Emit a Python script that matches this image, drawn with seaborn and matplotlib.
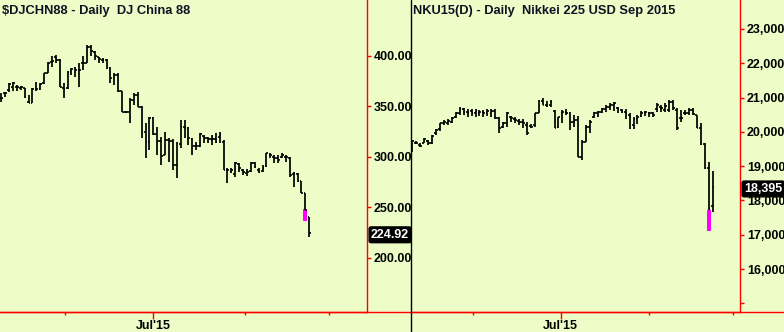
import numpy as np
import matplotlib
matplotlib.use("Agg")
import matplotlib.pyplot as plt
from matplotlib.lines import Line2D
from matplotlib.ticker import FixedLocator
import seaborn as sns

# ---------------- data ----------------
china_title = "$DJCHN88 - Daily  DJ China 88"
china_high = [363.0, 364.6, 372.9, 374.5, 371.2, 370.2, 368.6, 361.3, 368.0, 373.9,
              372.9, 383.5, 393.7, 400.0, 400.6, 396.7, 373.6, 385.4, 387.7, 388.7,
              392.7, 400.0, 410.9, 410.9, 405.2, 399.3, 397.6, 396.7, 388.7, 382.8,
              382.8, 365.3, 345.5, 358.0, 363.7, 364.6, 350.5, 333.3, 339.9, 339.9,
              330.0, 320.1, 325.0, 318.4, 317.5, 315.2, 336.6, 336.6, 330.0, 318.4,
              315.2, 323.4, 321.7, 320.1, 321.7, 323.4, 324.4, 316.8, 288.7, 288.7,
              295.4, 294.4, 287.8, 287.8, 295.4, 295.4, 288.7, 292.0, 304.3, 303.6,
              301.9, 301.9, 303.6, 301.9, 300.3, 285.5, 284.5, 276.5, 264.7, 240.9]
china_low = [354.7, 359.7, 364.6, 365.6, 365.6, 366.3, 358.0, 353.1, 353.1, 365.6,
             366.3, 372.2, 382.8, 389.4, 392.7, 368.9, 358.0, 367.0, 381.1, 379.5,
             368.9, 386.1, 393.4, 400.0, 396.0, 392.7, 392.7, 386.8, 373.6, 371.2,
             364.6, 344.9, 343.9, 334.0, 351.5, 349.8, 318.4, 298.7, 306.9, 321.7,
             302.0, 292.0, 302.0, 295.4, 287.1, 278.9, 308.5, 318.4, 311.9, 302.0,
             306.9, 310.2, 313.5, 313.5, 311.9, 313.5, 314.2, 287.1, 274.6, 283.8,
             280.5, 285.5, 282.1, 281.2, 285.5, 288.7, 283.8, 285.5, 290.4, 298.7,
             293.7, 293.7, 298.7, 295.4, 280.5, 270.6, 275.6, 264.0, 247.5, 221.1]
china_open = [358.0, 363.0, 366.3, 369.6, 368.9, 368.0, 368.0, 354.7, 353.8, 367.0,
              367.0, 372.9, 383.5, 394.4, 399.3, 396.0, 368.0, 368.0, 384.4, 387.7,
              386.1, 392.7, 393.4, 408.5, 404.2, 398.6, 396.0, 396.0, 387.7, 377.9,
              381.1, 365.3, 344.9, 344.9, 356.4, 361.3, 349.8, 325.0, 315.0, 338.9,
              322.7, 316.0, 302.0, 316.8, 316.0, 292.0, 313.0, 330.0, 328.4, 318.0,
              310.9, 311.0, 320.5, 318.4, 317.5, 318.0, 320.0, 315.0, 287.5, 285.0,
              283.0, 293.0, 287.0, 284.0, 286.0, 294.0, 287.0, 286.0, 291.0, 302.0,
              300.0, 299.0, 300.0, 300.0, 299.0, 283.0, 283.0, 276.0, 264.7, 240.2]
china_close = [358.7, 363.0, 372.2, 372.9, 368.9, 368.9, 359.7, 353.1, 367.0, 367.0,
               372.2, 382.8, 393.4, 395.3, 396.0, 368.9, 367.0, 384.4, 386.8, 386.1,
               386.1, 392.7, 408.5, 405.2, 400.0, 396.7, 396.0, 387.7, 377.9, 381.1,
               365.3, 344.9, 344.9, 356.4, 361.3, 349.8, 324.4, 315.2, 338.9, 322.7,
               316.1, 301.0, 316.8, 316.1, 292.0, 313.5, 330.0, 328.4, 318.4, 310.9,
               310.9, 322.7, 318.4, 317.5, 317.5, 315.2, 322.0, 287.5, 287.0, 287.0,
               293.7, 289.0, 285.5, 285.5, 294.4, 290.4, 285.5, 288.7, 303.6, 302.0,
               298.7, 297.0, 302.0, 300.3, 282.1, 283.8, 276.5, 264.7, 247.5, 224.92]
china_marker_bar = 78
china_marker_range = [236.9, 248.5]
china_last = 224.92
china_yticks = [200, 250, 300, 350, 400]
china_month_starts = [16.3, 38.9, 62.5, 84.0]

nikkei_title = "NKU15(D) - Daily  Nikkei 225 USD Sep 2015"
nikkei_high = [19763, 19734, 19666, 19812, 19763, 19909, 20074, 20269, 20347, 20366,
               20444, 20590, 20716, 20687, 20658, 20658, 20658, 20638, 20638, 20668,
               20658, 20658, 20424, 20298, 20590, 20463, 20424, 20366, 20366, 20298,
               20230, 20560, 20930, 20978, 20910, 20930, 20638, 20444, 20638, 20658,
               20590, 20493, 20463, 19763, 20201, 20347, 20590, 20619, 20687, 20784,
               20833, 20881, 20736, 20658, 20658, 20541, 20444, 20493, 20619, 20619,
               20590, 20590, 20833, 20784, 20833, 20930, 20930, 20687, 20638, 20638,
               20687, 20687, 20493, 20250, 19686, 19122, 18860]
nikkei_low = [19423, 19647, 19569, 19666, 19618, 19647, 19909, 20036, 20201, 20201,
              20250, 20395, 20493, 20493, 20444, 20463, 20444, 20463, 20444, 20463,
              20424, 20366, 19977, 20104, 20152, 20298, 20250, 20201, 20104, 19920,
              20104, 20152, 20541, 20784, 20736, 20736, 20104, 20104, 20250, 20493,
              20055, 20152, 19258, 19180, 19715, 19958, 20395, 20444, 20541, 20590,
              20638, 20619, 20560, 20541, 20366, 20074, 20074, 20230, 20444, 20463,
              20444, 20424, 20590, 20590, 20590, 20590, 20638, 20055, 20298, 20493,
              20493, 20493, 20104, 19618, 18908, 17722, 17674]
nikkei_open = [19452, 19686, 19618, 19686, 19744, 19686, 19958, 20074, 20250, 20269,
               20298, 20424, 20541, 20658, 20590, 20619, 20560, 20541, 20590, 20541,
               20560, 20619, 20395, 20152, 20250, 20444, 20366, 20327, 20298, 20200,
               20180, 20201, 20560, 20910, 20784, 20784, 20619, 20152, 20560, 20590,
               20541, 20298, 20347, 19277, 19715, 20152, 20424, 20541, 20590, 20658,
               20736, 20784, 20687, 20638, 20590, 20493, 20201, 20366, 20463, 20560,
               20560, 20541, 20658, 20736, 20638, 20640, 20880, 20638, 20400, 20540,
               20541, 20638, 20493, 20104, 19640, 18937, 17839]
nikkei_close = [19734, 19686, 19589, 19783, 19666, 19880, 20055, 20250, 20298, 20327,
                20395, 20560, 20658, 20590, 20541, 20560, 20619, 20590, 20541, 20619,
                20619, 20395, 20104, 20250, 20541, 20395, 20347, 20298, 20250, 19960,
                20152, 20541, 20910, 20784, 20784, 20881, 20104, 20424, 20590, 20541,
                20298, 20347, 19277, 19715, 20152, 20298, 20541, 20590, 20658, 20736,
                20784, 20833, 20658, 20590, 20560, 20424, 20366, 20444, 20560, 20590,
                20541, 20493, 20785, 20687, 20760, 20880, 20687, 20104, 20395, 20541,
                20638, 20522, 20104, 19640, 18937, 17742, 18395]
nikkei_marker_bar = 75
nikkei_marker_range = [17120, 17730]
nikkei_last = 18395
nikkei_yticks = [15000, 16000, 17000, 18000, 19000, 20000, 21000, 22000, 23000]
nikkei_month_starts = [15.4, 37.6, 59.9, 81.2]
month_label = "Jul'15"

# ---------------- style ----------------
BG = "#EDFDC8"
RED = "#FF0000"
W, H = 784, 332

sns.set_theme(style="white")
plt.rcParams["font.family"] = ["Liberation Sans", "DejaVu Sans"]
plt.rcParams["font.weight"] = "bold"

fig = plt.figure(figsize=(W / 100, H / 100), dpi=100)
fig.patch.set_facecolor(BG)

bottom_px = 312
axL = fig.add_axes([0, (H - bottom_px) / H, 367 / W, bottom_px / H])
axR = fig.add_axes([411 / W, (H - bottom_px) / H, (740 - 411) / W, bottom_px / H])


def draw_panel(ax, o, h, l, c, marker_bar, marker_range, last, yticks, fmt,
               ylim, xlim, months, hide_first_label=False):
    ax.set_facecolor(BG)
    x = np.arange(len(o))
    ax.vlines(x, l, h, color="black", lw=1.25)
    ax.hlines(o, x - 0.45, x, color="black", lw=1.2)
    ax.hlines(c, x, x + 0.45, color="black", lw=1.2)
    ax.bar([marker_bar], [marker_range[1] - marker_range[0]], bottom=marker_range[0],
           width=1.0, color="#FF00FF", linewidth=0)
    ax.set_ylim(*ylim)
    ax.set_xlim(*xlim)
    for s in ["top", "left"]:
        ax.spines[s].set_visible(False)
    ax.spines["right"].set_color(RED)
    ax.spines["right"].set_linewidth(1.0)
    ax.spines["bottom"].set_color(RED)
    ax.spines["bottom"].set_linewidth(1.0)
    ax.yaxis.tick_right()
    ax.set_yticks(yticks)
    labels = [fmt(v) for v in yticks]
    if hide_first_label:
        labels[0] = ""
    ax.set_yticklabels(labels)
    ax.tick_params(axis="y", which="both", direction="out", length=3, width=1,
                   color=RED, labelcolor="black", labelsize=9, pad=2, right=True, left=False)
    ax.set_xticks([months[1]])
    ax.set_xticklabels([month_label])
    ax.xaxis.set_minor_locator(FixedLocator([months[0], months[2], months[3]]))
    ax.tick_params(axis="x", which="major", direction="out", length=5, width=1,
                   color=RED, labelcolor="black", labelsize=9, pad=1, bottom=True)
    ax.tick_params(axis="x", which="minor", direction="out", length=2, width=1,
                   color=RED, bottom=True)
    for t in ax.get_xticklabels() + ax.get_yticklabels():
        t.set_fontweight("bold")
    ax.grid(False)
    ax.annotate(fmt(last), xy=(1, last),
                xycoords=ax.get_yaxis_transform(), xytext=(4, -2),
                textcoords="offset pixels", ha="left", va="center",
                color="white", fontsize=9, fontweight="bold",
                bbox=dict(boxstyle="round,pad=0.15", fc="black", ec="black"),
                annotation_clip=False)


draw_panel(axL, china_open, china_high, china_low, china_close,
           china_marker_bar, china_marker_range, china_last, china_yticks,
           lambda v: f"{v:.2f}", (146.5, 455.4), (-0.33, 93.8), china_month_starts)
draw_panel(axR, nikkei_open, nikkei_high, nikkei_low, nikkei_close,
           nikkei_marker_bar, nikkei_marker_range, nikkei_last, nikkei_yticks,
           lambda v: f"{v:,.0f}", (14749, 23845), (-0.33, 82.96), nikkei_month_starts,
           hide_first_label=True)

yb = (H - bottom_px) / H
fig.add_artist(Line2D([0, 1], [yb, yb], transform=fig.transFigure, color=RED, lw=1.0))
fig.add_artist(Line2D([411 / W, 411 / W], [0, 1], transform=fig.transFigure,
                      color="black", lw=1.0))

fig.text(2 / W, 1 - 14 / H, china_title, fontsize=9.3, fontweight="bold",
         color="#111122", ha="left", va="baseline", parse_math=False)
fig.text(413 / W, 1 - 14 / H, nikkei_title, fontsize=9.3, fontweight="bold",
         color="#111122", ha="left", va="baseline", parse_math=False)

fig.savefig("out.png", dpi=100, facecolor=BG)
